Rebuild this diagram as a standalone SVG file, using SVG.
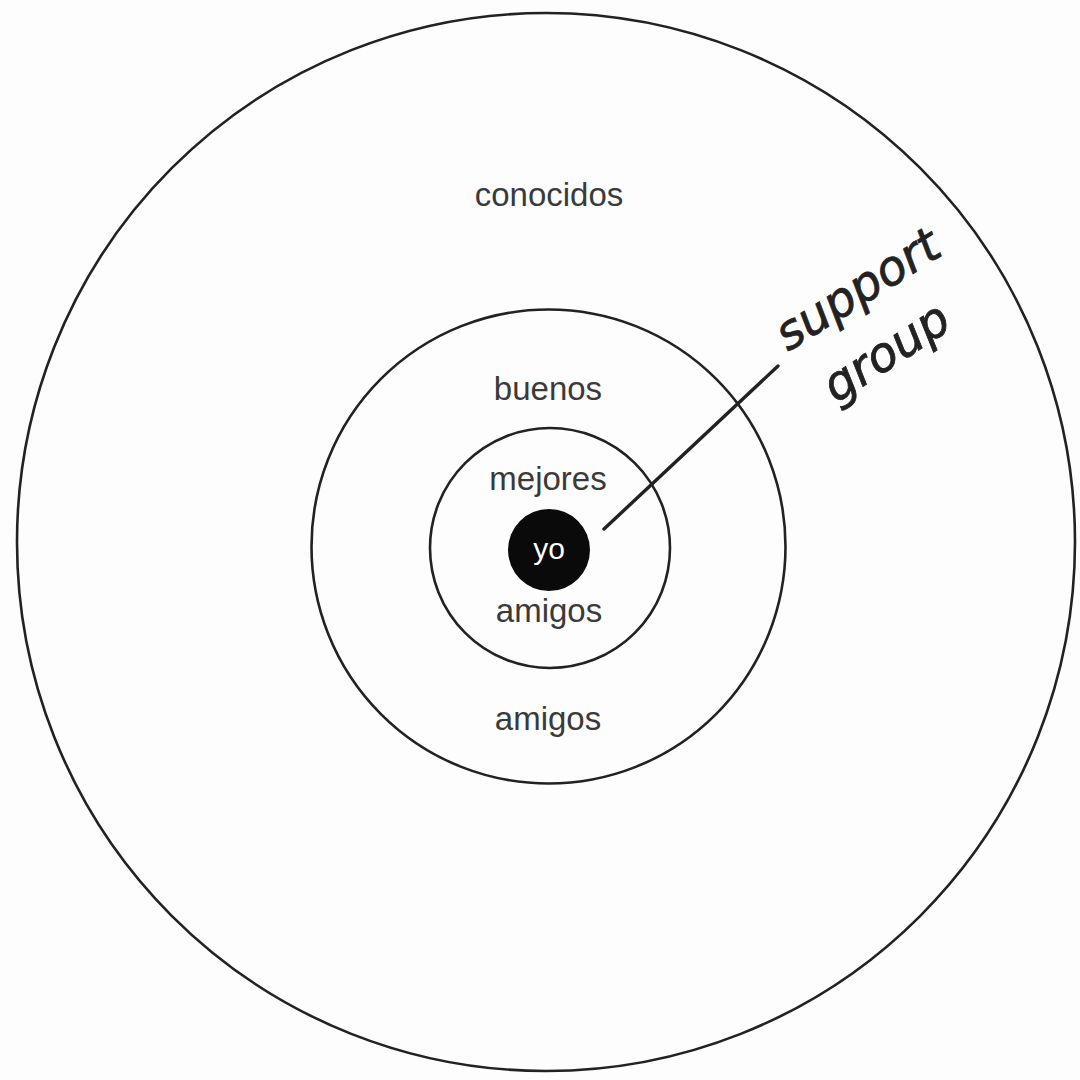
<svg xmlns="http://www.w3.org/2000/svg" width="1080" height="1080" viewBox="0 0 1080 1080">
<style>
.ring{fill:none;stroke:#222;stroke-width:2.6}
.lbl{font-family:"Liberation Sans",Arial,sans-serif;font-size:33px;fill:#3a3a3a;text-anchor:middle}
.hand{font-family:"DejaVu Sans","Liberation Sans",sans-serif;font-style:italic;font-size:48px;fill:#222;stroke:#222;stroke-width:0.8}
</style>
<rect width="1080" height="1080" fill="#fdfdfd"/>
<g id="conocidos">
<circle class="ring" cx="546" cy="542" r="529"/>
<text class="lbl" x="549" y="206">conocidos</text>
</g>
<g id="buenos-amigos">
<circle class="ring" cx="548.5" cy="546.5" r="237"/>
<text class="lbl" x="548" y="400">buenos</text>
<text class="lbl" x="548" y="730">amigos</text>
</g>
<g id="mejores-amigos">
<circle class="ring" cx="550" cy="548" r="120"/>
<text class="lbl" x="548" y="490">mejores</text>
<text class="lbl" x="549" y="622">amigos</text>
</g>
<g id="yo">
<circle cx="549" cy="550" r="41" fill="#0a0a0a"/>
<text x="549" y="559" font-family="Liberation Sans,Arial,sans-serif" font-size="30" fill="#fff" text-anchor="middle">yo</text>
</g>
<g id="connectors">
<line x1="604" y1="529" x2="778" y2="366" stroke="#222" stroke-width="3.4" stroke-linecap="round"/>
</g>
<g id="support-group">
<text class="hand" transform="translate(788,352) rotate(-32)">support</text>
<text class="hand" transform="translate(836,404) rotate(-33)">group</text>
</g>
</svg>
